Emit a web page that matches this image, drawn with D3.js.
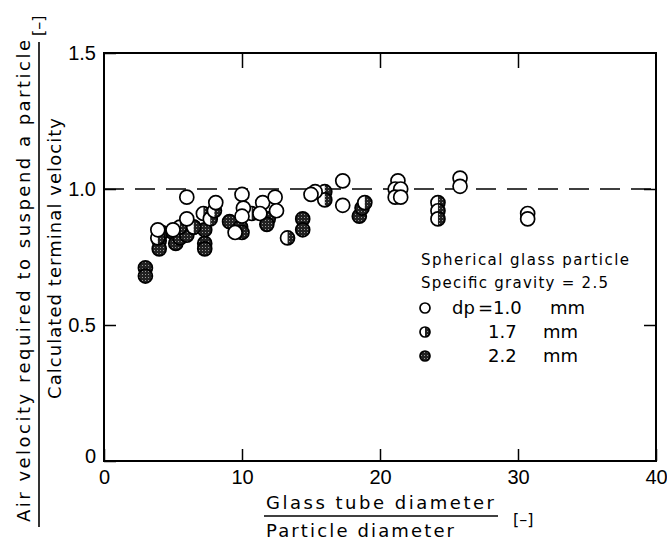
<!DOCTYPE html>
<html>
<head>
<meta charset="utf-8">
<script src="https://cdn.jsdelivr.net/npm/d3@7"></script>
<style>
  body { margin: 0; background: #fff; }
  svg { display: block; font-family: "DejaVu Sans", "Liberation Sans", sans-serif; }
</style>
</head>
<body>
<div id="chart"></div>
<script>
// values: [tube/particle diameter ratio, velocity ratio]
const dp10 = [
  [6.0, 0.97], [3.9, 0.85], [6.0, 0.89], [5.0, 0.85], [8.1, 0.95],
  [10.0, 0.98], [10.1, 0.93], [10.0, 0.90], [9.5, 0.84],
  [11.5, 0.95], [12.4, 0.97], [12.5, 0.92], [11.3, 0.91],
  [15.3, 0.99], [15.0, 0.98], [17.3, 1.03], [17.3, 0.94],
  [21.3, 1.03], [21.1, 1.00], [21.5, 1.00], [21.1, 0.97], [21.5, 0.97],
  [25.8, 1.04], [25.8, 1.01], [30.7, 0.91], [30.7, 0.89]
];
const dp17 = [
  [3.9, 0.82], [5.5, 0.86], [6.5, 0.86], [7.2, 0.91], [7.7, 0.89],
  [8.0, 0.92], [10.7, 0.91], [13.3, 0.82], [16.0, 0.99], [16.0, 0.96],
  [18.9, 0.95], [24.2, 0.95], [24.2, 0.92], [24.2, 0.89]
];
const dp22 = [
  [3.0, 0.71], [3.0, 0.68], [4.0, 0.81], [4.0, 0.78], [4.2, 0.84],
  [5.0, 0.84], [5.2, 0.80], [5.5, 0.82], [6.0, 0.83], [6.5, 0.86],
  [7.3, 0.85], [7.3, 0.80], [7.3, 0.78], [9.1, 0.88], [9.9, 0.86],
  [10.0, 0.84], [11.9, 0.89], [11.8, 0.87], [14.4, 0.89], [14.4, 0.85],
  [18.5, 0.90], [18.7, 0.93]
];
const xTicks = [0, 10, 20, 30, 40];
const yTicks = [0, 0.5, 1.0, 1.5];
const yTickLabels = ["0", "0.5", "1.0", "1.5"];
const refLine = 1.0;
const legendLines = ["Spherical glass particle", "Specific gravity = 2.5"];
const legendSizes = ["=1.0", "1.7", "2.2"];

const W = 667, H = 541;
const x = d3.scaleLinear().domain([0, 40]).range([104, 656]);
const y = d3.scaleLinear().domain([0, 1.5]).range([461, 53]);
const R = 7;

const svg = d3.select("#chart").append("svg")
  .attr("width", W).attr("height", H);

// stipple fill like the printed dark markers
const defs = svg.append("defs");
const pat = defs.append("pattern").attr("id", "stip")
  .attr("width", 3).attr("height", 3).attr("patternUnits", "userSpaceOnUse");
pat.append("rect").attr("width", 3).attr("height", 3).attr("fill", "#222");
pat.append("rect").attr("x", 1).attr("y", 1).attr("width", 1).attr("height", 1).attr("fill", "#999");

// axes with inward ticks
const xAxis = svg.append("g").attr("transform", `translate(0,${y(0)})`)
  .call(d3.axisBottom(x).tickValues(xTicks).tickSizeInner(-12).tickSizeOuter(0).tickPadding(9)
    .tickFormat(d3.format("d")));
const yAxis = svg.append("g").attr("transform", `translate(${x(0)},0)`)
  .call(d3.axisLeft(y).tickValues(yTicks).tickSizeInner(-12).tickSizeOuter(0).tickPadding(8)
    .tickFormat((d, i) => yTickLabels[i]));
svg.append("g").attr("transform", `translate(0,${y(1.5)})`)
  .call(d3.axisTop(x).tickValues([10, 20, 30]).tickSizeInner(-15).tickSizeOuter(0).tickFormat(""));
svg.append("g").attr("transform", `translate(${x(40)},0)`)
  .call(d3.axisRight(y).tickValues([0.5, 1.0]).tickSizeInner(-12).tickSizeOuter(0).tickFormat(""));

svg.selectAll(".domain").remove();
svg.selectAll(".tick line").attr("stroke", "#000").attr("stroke-width", 1.5);
xAxis.selectAll("text").attr("font-size", 20).attr("fill", "#000")
  .attr("font-family", "Liberation Sans, sans-serif");
yAxis.selectAll("text").attr("font-size", 20).attr("fill", "#000")
  .attr("font-family", "Liberation Sans, sans-serif");
yAxis.selectAll(".tick").filter(d => d === 0).select("text").attr("dy", "0.05em");

// frame
svg.append("rect")
  .attr("x", x(0)).attr("y", y(1.5))
  .attr("width", x(40) - x(0)).attr("height", y(0) - y(1.5))
  .attr("fill", "none").attr("stroke", "#000").attr("stroke-width", 2);

// reference line at 1.0
svg.append("line")
  .attr("x1", x(0)).attr("x2", x(40)).attr("y1", y(refLine)).attr("y2", y(refLine))
  .attr("stroke", "#000").attr("stroke-width", 1.6).attr("stroke-dasharray", "20,11");

// markers
const pts = svg.append("g");
function solid(g, cx, cy, r) {
  g.append("circle").attr("cx", cx).attr("cy", cy).attr("r", r)
    .attr("fill", "url(#stip)").attr("stroke", "#000").attr("stroke-width", 1.7);
}
function half(g, cx, cy, r) {
  g.append("circle").attr("cx", cx).attr("cy", cy).attr("r", r).attr("fill", "#fff");
  g.append("path")
    .attr("d", `M${cx},${cy - r}A${r},${r} 0 0 1 ${cx},${cy + r}Z`)
    .attr("fill", "url(#stip)");
  g.append("circle").attr("cx", cx).attr("cy", cy).attr("r", r)
    .attr("fill", "none").attr("stroke", "#000").attr("stroke-width", 1.7);
}
function open(g, cx, cy, r) {
  g.append("circle").attr("cx", cx).attr("cy", cy).attr("r", r)
    .attr("fill", "#fff").attr("stroke", "#000").attr("stroke-width", 1.7);
}
dp22.forEach(d => solid(pts, x(d[0]), y(d[1]), R));
dp17.forEach(d => half(pts, x(d[0]), y(d[1]), R));
dp10.forEach(d => open(pts, x(d[0]), y(d[1]), R));

// legend
const leg = svg.append("g").attr("font-size", 15).attr("fill", "#000");
leg.selectAll("text.head").data(legendLines).join("text").attr("class", "head")
  .attr("x", 421).attr("y", (d, i) => 265 + i * 23)
  .attr("textLength", (d, i) => i === 0 ? 208 : 187).attr("lengthAdjust", "spacing")
  .text(d => d);
const markFns = [open, half, solid];
legendSizes.forEach((s, i) => {
  const cy = 308 + i * 24;
  markFns[i](leg, 425, cy, 5);
  if (i === 0) leg.append("text").attr("x", 452).attr("y", cy + 6).attr("font-size", 18).text("dp");
  leg.append("text").attr("x", i === 0 ? 478 : 488).attr("y", cy + 6).attr("font-size", 18).text(s);
  leg.append("text").attr("x", i === 0 ? 550 : 543).attr("y", cy + 6).attr("font-size", 18).text("mm");
});

// x axis title (fraction)
const xt = svg.append("g").attr("font-size", 18).attr("fill", "#000");
xt.append("text").attr("x", 266).attr("y", 509).attr("textLength", 228).attr("lengthAdjust", "spacing")
  .text("Glass tube diameter");
xt.append("line").attr("x1", 264).attr("x2", 498).attr("y1", 516).attr("y2", 516)
  .attr("stroke", "#000").attr("stroke-width", 1.6);
xt.append("text").attr("x", 266).attr("y", 537).attr("textLength", 188).attr("lengthAdjust", "spacing")
  .text("Particle diameter");
xt.append("text").attr("x", 513).attr("y", 525).attr("font-size", 16).text("[–]");

// y axis title (fraction, rotated)
const yt = svg.append("g").attr("transform", "rotate(-90)").attr("font-size", 18).attr("fill", "#000");
yt.append("text").attr("x", -522).attr("y", 30).attr("textLength", 482).attr("lengthAdjust", "spacing")
  .text("Air velocity required to suspend a particle");
yt.append("line").attr("x1", -527).attr("x2", -42).attr("y1", 39).attr("y2", 39)
  .attr("stroke", "#000").attr("stroke-width", 1.6);
yt.append("text").attr("x", -399).attr("y", 61).attr("textLength", 281).attr("lengthAdjust", "spacing")
  .text("Calculated terminal velocity");
yt.append("text").attr("x", -36).attr("y", 44).attr("font-size", 16).text("[–]");
</script>
</body>
</html>
